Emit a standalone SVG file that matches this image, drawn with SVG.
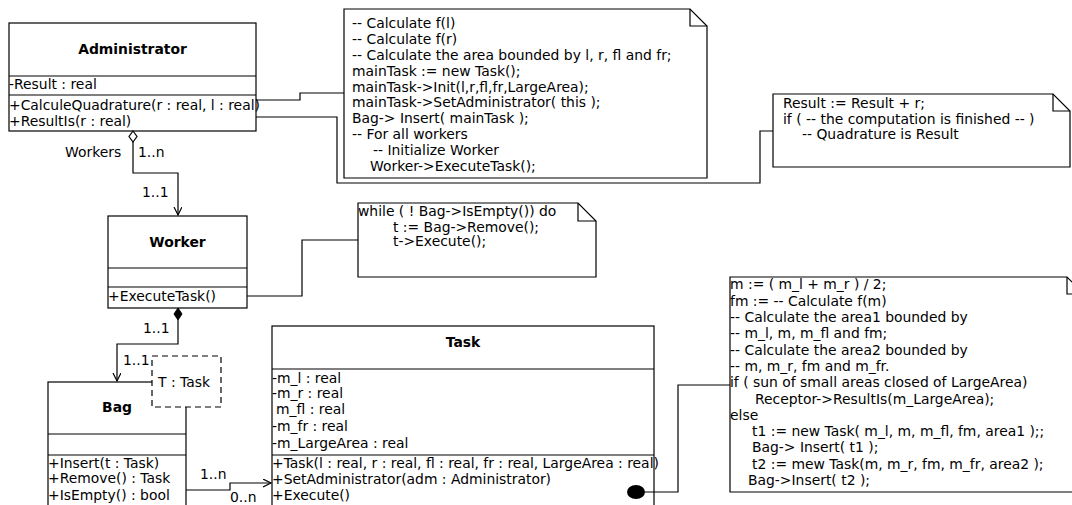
<svg xmlns="http://www.w3.org/2000/svg" width="1072" height="505" viewBox="0 0 1072 505">
<style>
text{font-family:"DejaVu Sans","Liberation Sans",sans-serif;font-size:13.9px;fill:#000}
.t{font-weight:bold;text-anchor:middle}
.box{fill:#fff;stroke:#000;stroke-width:1.2}
.sep{stroke:#000;stroke-width:1.2}
.note{fill:#fff;stroke:#000;stroke-width:1.2}
.fold{fill:none;stroke:#000;stroke-width:1.2}
.c{fill:none;stroke:#000;stroke-width:1.2}
</style>
<defs>
<marker id="open" markerWidth="10" markerHeight="10" refX="8" refY="4" orient="auto" markerUnits="userSpaceOnUse">
<path d="M0,0 L8,4 L0,8" fill="none" stroke="#000" stroke-width="1.2"/>
</marker>
</defs>
<rect width="1072" height="505" fill="#fff"/>

<g id="Administrator">
<rect class="box" x="9" y="23" width="247" height="108"/>
<line class="sep" x1="9" y1="76" x2="256" y2="76"/>
<line class="sep" x1="9" y1="95" x2="256" y2="95"/>
<text class="t" x="132.5" y="54">Administrator</text>
<text x="9" y="89">-Result : real</text>
<text x="9" y="110">+CalculeQuadrature(r : real, l : real)</text>
<text x="9" y="126">+ResultIs(r : real)</text>
</g>

<g id="Worker">
<rect class="box" x="108" y="216" width="139" height="92"/>
<line class="sep" x1="108" y1="268" x2="247" y2="268"/>
<line class="sep" x1="108" y1="287" x2="247" y2="287"/>
<text class="t" x="177.5" y="247">Worker</text>
<text x="108" y="301">+ExecuteTask()</text>
</g>

<g id="Bag">
<rect class="box" x="48" y="382" width="138" height="130"/>
<line class="sep" x1="48" y1="434" x2="186" y2="434"/>
<line class="sep" x1="48" y1="455" x2="186" y2="455"/>
<text class="t" x="117" y="412">Bag</text>
<text x="48" y="468">+Insert(t : Task)</text>
<text x="48" y="483">+Remove() : Task</text>
<text x="48" y="500">+IsEmpty() : bool</text>
</g>

<g id="TemplateParam">
<rect x="152" y="356" width="69" height="51" fill="#fff" stroke="#000" stroke-width="1.2" stroke-dasharray="6,4"/>
<text x="158" y="387">T : Task</text>
</g>

<g id="Task">
<rect class="box" x="272" y="326" width="382" height="190"/>
<line class="sep" x1="272" y1="369" x2="654" y2="369"/>
<line class="sep" x1="272" y1="455" x2="654" y2="455"/>
<text class="t" x="463" y="347">Task</text>
<text x="272" y="383">-m_l : real</text>
<text x="272" y="398">-m_r : real</text>
<text x="276" y="414">m_fl : real</text>
<text x="272" y="431">-m_fr : real</text>
<text x="272" y="448">-m_LargeArea : real</text>
<text x="272" y="468">+Task(l : real, r : real, fl : real, fr : real, LargeArea : real)</text>
<text x="272" y="484">+SetAdministrator(adm : Administrator)</text>
<text x="272" y="500">+Execute()</text>
</g>

<g id="NoteCalculeQuadrature">
<path class="note" d="M344,9 H690 L707,26 V178 H344 Z"/>
<path class="fold" d="M690,9 V26 H707"/>
<text x="352" y="28">-- Calculate f(l)</text>
<text x="352" y="44">-- Calculate f(r)</text>
<text x="352" y="60">-- Calculate the area bounded by l, r, fl and fr;</text>
<text x="352" y="76">mainTask := new Task();</text>
<text x="352" y="92">mainTask-&gt;Init(l,r,fl,fr,LargeArea);</text>
<text x="352" y="107">mainTask-&gt;SetAdministrator( this );</text>
<text x="352" y="123">Bag-&gt; Insert( mainTask );</text>
<text x="352" y="139">-- For all workers</text>
<text x="373" y="155">-- Initialize Worker</text>
<text x="370" y="171">Worker-&gt;ExecuteTask();</text>
</g>

<g id="NoteResultIs">
<path class="note" d="M773,94 H1053 L1070,111 V167 H773 Z"/>
<path class="fold" d="M1053,94 V111 H1070"/>
<text x="783" y="108">Result := Result + r;</text>
<text x="783" y="124">if ( -- the computation is finished -- )</text>
<text x="802" y="139">-- Quadrature is Result</text>
</g>

<g id="NoteExecuteTask">
<path class="note" d="M358,203 H578 L596,221 V277 H358 Z"/>
<path class="fold" d="M578,203 V221 H596"/>
<text x="358" y="216">while ( ! Bag-&gt;IsEmpty()) do</text>
<text x="393" y="232">t := Bag-&gt;Remove();</text>
<text x="393" y="246">t-&gt;Execute();</text>
</g>

<g id="NoteExecute">
<path class="note" d="M730,277 H1067 L1084,294 V492 H730 Z"/>
<path class="fold" d="M1067,277 V294 H1084"/>
<text x="730" y="289">m := ( m_l + m_r ) / 2;</text>
<text x="730" y="306">fm := -- Calculate f(m)</text>
<text x="730" y="322">-- Calculate the area1 bounded by</text>
<text x="730" y="338">-- m_l, m, m_fl and fm;</text>
<text x="730" y="355">-- Calculate the area2 bounded by</text>
<text x="730" y="371">-- m, m_r, fm and m_fr.</text>
<text x="730" y="387">if ( sun of small areas closed of LargeArea)</text>
<text x="755" y="404">Receptor-&gt;ResultIs(m_LargeArea);</text>
<text x="730" y="420">else</text>
<text x="752" y="436">t1 := new Task( m_l, m, m_fl, fm, area1 );;</text>
<text x="752" y="452">Bag-&gt; Insert( t1 );</text>
<text x="752" y="469">t2 := mew Task(m, m_r, fm, m_fr, area2 );</text>
<text x="748" y="485">Bag-&gt;Insert( t2 );</text>
</g>

<g id="connectors">
<path class="c" d="M256,100 H300 V93 H344"/>
<path class="c" d="M256,117 H337 V183 H760 V131 H773"/>
<path class="c" d="M133,142 V173 H178 V215" marker-end="url(#open)"/>
<polygon points="133,131 137,136.5 133,142 129,136.5" fill="#fff" stroke="#000" stroke-width="1.2"/>
<path class="c" d="M247,296 H302 V240 H358"/>
<path class="c" d="M178,320 V344 H117 V381" marker-end="url(#open)"/>
<polygon points="178,308 182,314 178,320 174,314" fill="#000" stroke="#000" stroke-width="1"/>
<path class="c" d="M186,490 H230 V483 H271" marker-end="url(#open)"/>
<path class="c" d="M644,492 H678 V385 H730"/>
<ellipse cx="636" cy="492" rx="9" ry="7" fill="#000"/>
<text x="65" y="157">Workers</text>
<text x="138" y="157">1..n</text>
<text x="142" y="197">1..1</text>
<text x="143" y="333">1..1</text>
<text x="123" y="365">1..1</text>
<text x="200" y="479">1..n</text>
<text x="230" y="502">0..n</text>
</g>
</svg>
